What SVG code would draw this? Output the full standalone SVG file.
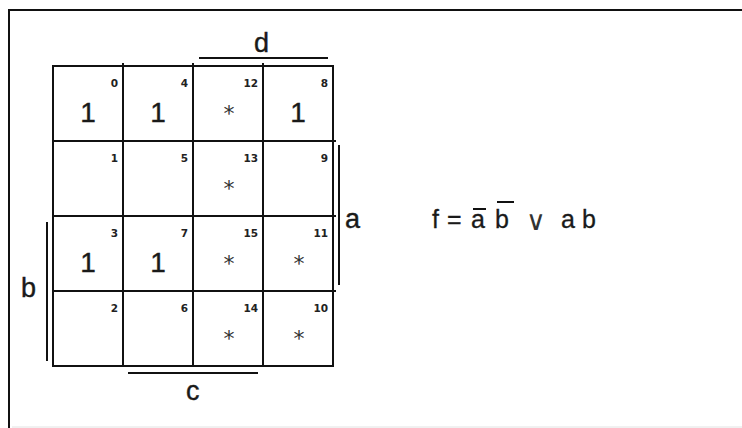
<svg xmlns="http://www.w3.org/2000/svg" width="742" height="428" viewBox="0 0 742 428">
<style>
.ln{stroke:#111;stroke-width:2;fill:none}
.num{font-family:"DejaVu Sans",sans-serif;font-weight:bold;font-size:10.5px;fill:#222;text-anchor:end}
.one{font-family:"Liberation Sans",Arial,sans-serif;font-size:28px;fill:#1a1a1a;text-anchor:middle;stroke:#1a1a1a;stroke-width:0.4}
.dc{font-family:"DejaVu Sans",sans-serif;font-size:22px;fill:#333;text-anchor:middle}
.lbl{font-family:"Liberation Sans",Arial,sans-serif;font-size:27px;fill:#1a1a1a;stroke:#1a1a1a;stroke-width:0.4}
.fx{font-family:"Liberation Sans",Arial,sans-serif;font-size:25px;fill:#1a1a1a;stroke:#1a1a1a;stroke-width:0.3}
</style>
<rect width="742" height="428" fill="#fff"/>
<g id="frame">
<line x1="9" y1="10" x2="742" y2="10" class="ln"/>
<line x1="9" y1="9" x2="9" y2="428" class="ln"/>
<line x1="12" y1="427" x2="742" y2="427" stroke="#e2e2e2" stroke-width="1"/>
</g>
<g id="grid">
<rect x="53" y="66" width="280" height="300" class="ln"/>
<line x1="123" y1="63" x2="123" y2="367" class="ln"/>
<line x1="193" y1="63" x2="193" y2="367" class="ln"/>
<line x1="263" y1="63" x2="263" y2="367" class="ln"/>
<line x1="53" y1="141" x2="336" y2="141" class="ln"/>
<line x1="53" y1="216" x2="336" y2="216" class="ln"/>
<line x1="53" y1="291" x2="336" y2="291" class="ln"/>
</g>
<g id="cells">
<g id="m0"><text x="118" y="87" class="num">0</text><text x="88" y="122" class="one">1</text></g>
<g id="m4"><text x="188" y="87" class="num">4</text><text x="158" y="122" class="one">1</text></g>
<g id="m12"><text x="258" y="87" class="num">12</text><text x="229" y="121" class="dc">*</text></g>
<g id="m8"><text x="328" y="87" class="num">8</text><text x="298" y="122" class="one">1</text></g>
<g id="m1"><text x="118" y="162" class="num">1</text></g>
<g id="m5"><text x="188" y="162" class="num">5</text></g>
<g id="m13"><text x="258" y="162" class="num">13</text><text x="229" y="196" class="dc">*</text></g>
<g id="m9"><text x="328" y="162" class="num">9</text></g>
<g id="m3"><text x="118" y="237" class="num">3</text><text x="88" y="272" class="one">1</text></g>
<g id="m7"><text x="188" y="237" class="num">7</text><text x="158" y="272" class="one">1</text></g>
<g id="m15"><text x="258" y="237" class="num">15</text><text x="229" y="271" class="dc">*</text></g>
<g id="m11"><text x="328" y="237" class="num">11</text><text x="299" y="271" class="dc">*</text></g>
<g id="m2"><text x="118" y="312" class="num">2</text></g>
<g id="m6"><text x="188" y="312" class="num">6</text></g>
<g id="m14"><text x="258" y="312" class="num">14</text><text x="229" y="346" class="dc">*</text></g>
<g id="m10"><text x="328" y="312" class="num">10</text><text x="299" y="346" class="dc">*</text></g>
</g>
<g id="labels">
<g id="label-d"><line x1="199" y1="58" x2="328" y2="58" class="ln"/><text x="254" y="52" class="lbl">d</text></g>
<g id="label-a"><line x1="339" y1="145" x2="339" y2="285" class="ln"/><text x="345" y="228" class="lbl">a</text></g>
<g id="label-b"><line x1="47" y1="222" x2="47" y2="361" class="ln"/><text x="21" y="297" class="lbl">b</text></g>
<g id="label-c"><line x1="128" y1="373" x2="258" y2="373" class="ln"/><text x="186" y="400" class="lbl">c</text></g>
</g>
<g id="formula">
<text x="432" y="228" class="fx">f</text>
<text x="447" y="228" class="fx" font-size="20">=</text>
<text x="471" y="228" class="fx">a</text>
<line x1="473" y1="209" x2="486" y2="209" class="ln"/>
<text x="495" y="228" class="fx">b</text>
<line x1="497" y1="202" x2="514" y2="202" class="ln"/>
<text x="526" y="230" font-family="DejaVu Sans, sans-serif" font-size="27" fill="#333">∨</text>
<text x="561" y="228" class="fx">a</text>
<text x="582" y="228" class="fx">b</text>
</g>
</svg>
